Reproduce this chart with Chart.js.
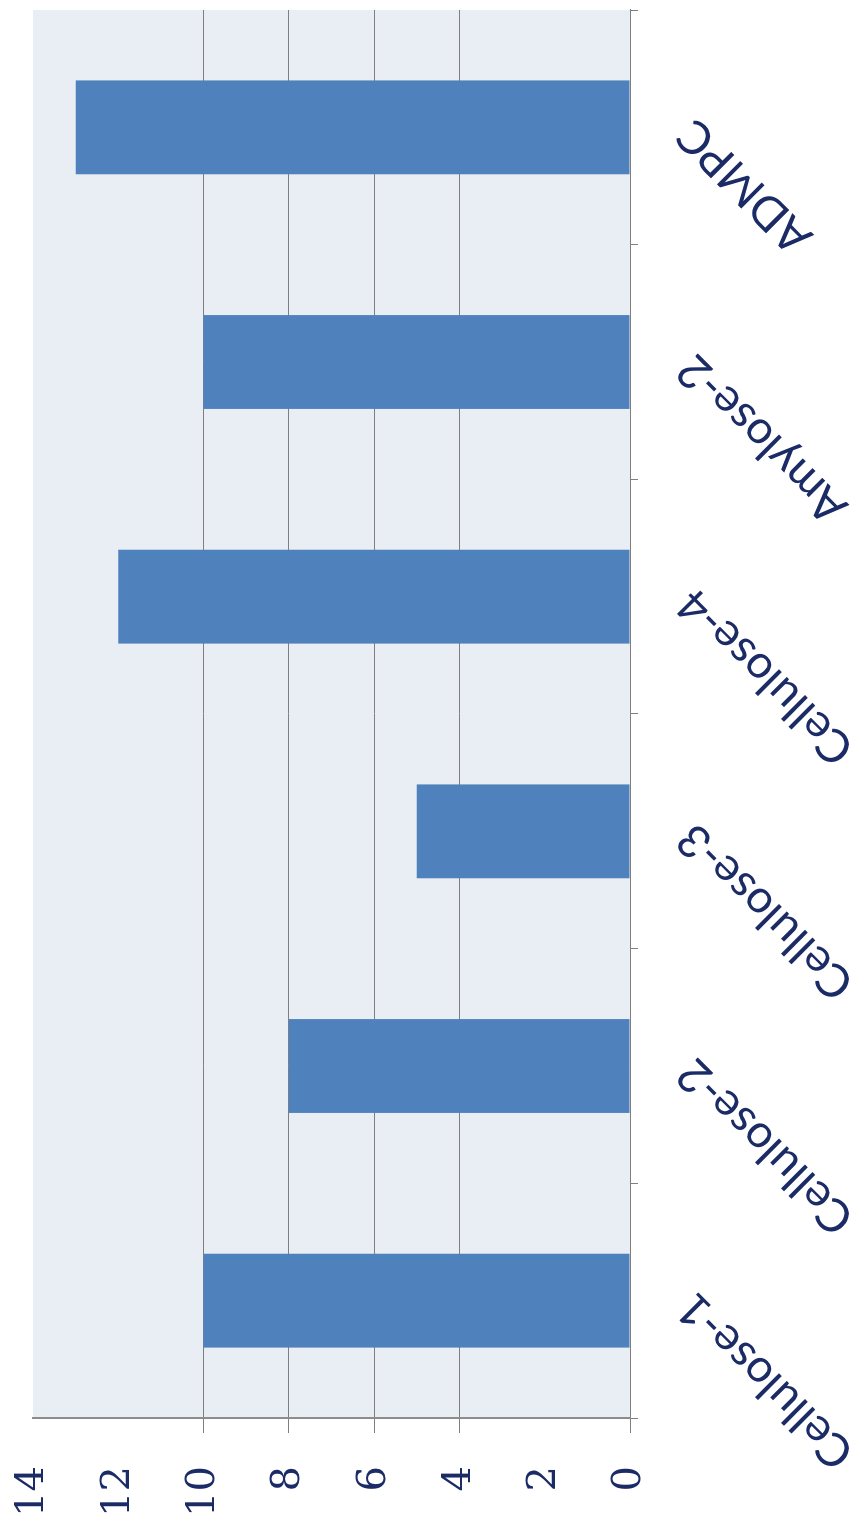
<!DOCTYPE html>
<html lang="en">
<head>
<meta charset="UTF-8">
<title>Bar chart</title>
<style>
html, body { margin: 0; padding: 0; background: #fff; overflow: hidden; }
/* the chart is drawn upright, then turned a quarter turn to the left */
#wrap { position: absolute; left: 0; top: 0; width: 1524px; height: 868px;
        transform-origin: 0 0; transform: translateY(1524px) rotate(-90deg); }
</style>
</head>
<body>
<div id="wrap"><canvas id="chart" width="1524" height="868"></canvas></div>
<script src="https://cdn.jsdelivr.net/npm/chart.js"></script>
<script>
const categories = ['Cellulose-1', 'Cellulose-2', 'Cellulose-3', 'Cellulose-4', 'Amylose-2', 'ADMPC'];
const values = [10, 8, 5, 12, 10, 13];
const yTicks = [0, 2, 4, 6, 8, 10, 12, 14];
const shownGrid = [0, 4, 6, 8, 10];

const navy = '#1b2b66';
const gridGray = '#7f7f7f';

const plotBg = {
    id: 'plotBg',
    beforeDraw(chart) {
        const a = chart.chartArea, ctx = chart.ctx;
        ctx.save();
        ctx.fillStyle = '#e9edf4';
        ctx.fillRect(a.left, a.top, a.right - a.left, a.bottom - a.top);
        ctx.restore();
    }
};

new Chart(document.getElementById('chart'), {
    type: 'bar',
    data: {
        labels: categories,
        datasets: [{
            data: values,
            backgroundColor: '#4f81bd',
            borderWidth: 0,
            barPercentage: 0.4,
            categoryPercentage: 1.0
        }]
    },
    options: {
        responsive: false,
        animation: false,
        layout: { padding: { top: 33, right: 10, left: 0, bottom: 0 } },
        plugins: { legend: { display: false }, tooltip: { enabled: false } },
        scales: {
            x: {
                offset: true,
                grid: { offset: true, drawOnChartArea: false, tickLength: 8, color: gridGray },
                border: { color: gridGray, width: 1 },
                ticks: {
                    minRotation: 45, maxRotation: 45, autoSkip: false,
                    padding: 28, color: navy,
                    font: { family: 'Lato', size: 46 }
                },
                afterFit(s) { s.height = 238; s.paddingLeft = 0; s.paddingRight = 0; }
            },
            y: {
                min: 0, max: 14,
                afterBuildTicks(s) { s.ticks = yTicks.map(v => ({ value: v })); },
                grid: {
                    tickLength: 15,
                    color: c => shownGrid.includes(c.tick.value) ? gridGray : 'rgba(0,0,0,0)'
                },
                border: { color: '#8c8c8c', width: 2 },
                ticks: {
                    padding: 33, color: navy,
                    font: { family: 'DejaVu Serif', size: 40 }
                },
                afterFit(s) { s.width = 106; s.paddingTop = 0; s.paddingBottom = 0; }
            }
        }
    },
    plugins: [plotBg]
});
</script>
</body>
</html>
